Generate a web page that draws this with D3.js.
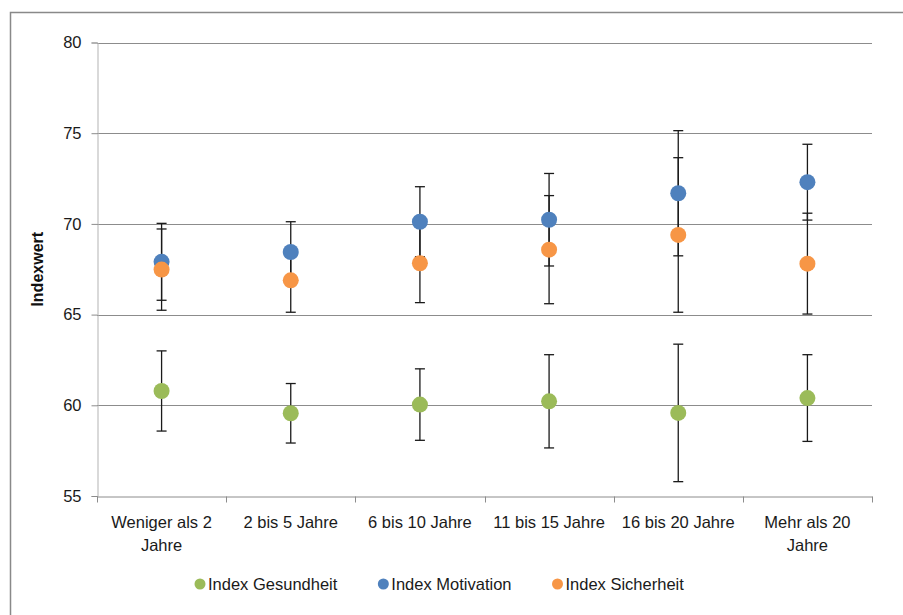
<!DOCTYPE html>
<html>
<head>
<meta charset="utf-8">
<script src="https://cdn.jsdelivr.net/npm/d3@7"></script>
<style>
  html, body { margin: 0; padding: 0; background: #fff; }
  svg { display: block; font-family: "Liberation Sans", Arial, sans-serif; }
</style>
</head>
<body>
<svg id="chart" width="903" height="615"></svg>
<script>
// ---- data ----
const categories = ["Weniger als 2 Jahre", "2 bis 5 Jahre", "6 bis 10 Jahre", "11 bis 15 Jahre", "16 bis 20 Jahre", "Mehr als 20 Jahre"];
const seriesNames = ["Index Gesundheit", "Index Motivation", "Index Sicherheit"];
const gesundheit = [60.79, 59.56, 60.04, 60.22, 59.58, 60.40];
const gesundheitErr = [2.21, 1.64, 1.97, 2.57, 3.79, 2.39];
const motivation = [67.91, 68.45, 70.12, 70.23, 71.69, 72.30];
const motivationErr = [2.12, 1.67, 1.93, 2.55, 3.45, 2.09];
const sicherheit = [67.48, 66.89, 67.83, 68.58, 69.39, 67.81];
const sicherheitErr = [2.24, 1.76, 2.17, 2.98, 4.26, 2.78];
const yTicks = [55, 60, 65, 70, 75, 80];
const yTitle = "Indexwert";
const colors = ["#9BBB59", "#4F81BD", "#F79646"];

const series = [
  { name: seriesNames[0], values: gesundheit, err: gesundheitErr, color: colors[0] },
  { name: seriesNames[1], values: motivation, err: motivationErr, color: colors[1] },
  { name: seriesNames[2], values: sicherheit, err: sicherheitErr, color: colors[2] }
];

const svg = d3.select("#chart");
const W = 903, H = 615;
const m = { left: 97, right: 872, top: 42.5, bottom: 496 };

// outer chart border
svg.append("rect")
  .attr("x", 10.5).attr("y", 12.5)
  .attr("width", W + 20).attr("height", H + 20)
  .attr("fill", "none").attr("stroke", "#898989").attr("stroke-width", 1.5);

const x = d3.scaleBand().domain(categories).range([m.left, m.right]).paddingInner(0).paddingOuter(0);
const y = d3.scaleLinear().domain([55, 80]).range([m.bottom, m.top]);

// gridlines
svg.append("g").selectAll("line").data(yTicks.filter(t => t !== 55)).join("line")
  .attr("x1", m.left).attr("x2", m.right)
  .attr("y1", d => Math.round(y(d)) + 0.5).attr("y2", d => Math.round(y(d)) + 0.5)
  .attr("stroke", "#8c8c8c").attr("stroke-width", 1);

// y axis
const yAxis = svg.append("g")
  .attr("transform", `translate(${m.left + 0.5},0)`)
  .call(d3.axisLeft(y).tickValues(yTicks).tickSize(6).tickPadding(10).tickFormat(d3.format("d")));
yAxis.select(".domain").attr("stroke", "#b3b3b3");
yAxis.selectAll(".tick line").attr("stroke", "#8c8c8c");
yAxis.selectAll(".tick text").attr("font-size", "16.5px").attr("fill", "#1a1a1a")
  .attr("font-family", "'Liberation Sans', Arial, sans-serif");

// x axis
const xAxis = svg.append("g")
  .attr("transform", `translate(0,${Math.round(y(55)) + 0.5})`)
  .call(d3.axisBottom(x).tickSize(0).tickPadding(0));
xAxis.select(".domain").attr("stroke", "#8c8c8c");
xAxis.selectAll(".tick text").remove();
// category boundary ticks
const bounds = categories.map(c => x(c)).concat([x(categories[categories.length - 1]) + x.bandwidth()]);
xAxis.selectAll(".bound").data(bounds).join("line").attr("class", "bound")
  .attr("x1", d => Math.round(d) + 0.5).attr("x2", d => Math.round(d) + 0.5)
  .attr("y1", 0).attr("y2", 6).attr("stroke", "#8c8c8c");

// category labels with wrapping
const labelG = svg.append("g").attr("font-size", "16.5px").attr("fill", "#1a1a1a");
categories.forEach(c => {
  const cx = x(c) + x.bandwidth() / 2;
  const t = labelG.append("text").attr("text-anchor", "middle").attr("x", cx).attr("y", 528);
  const words = c.split(" ");
  let line = [], lineNo = 0;
  let tspan = t.append("tspan").attr("x", cx).attr("y", 528);
  words.forEach(w => {
    line.push(w);
    tspan.text(line.join(" "));
    if (tspan.node().getComputedTextLength() > x.bandwidth() - 8 && line.length > 1) {
      line.pop();
      tspan.text(line.join(" "));
      line = [w];
      lineNo++;
      tspan = t.append("tspan").attr("x", cx).attr("y", 528 + lineNo * 23).text(w);
    }
  });
});

// y axis title
svg.append("text")
  .attr("transform", `translate(43,${(m.top + m.bottom) / 2}) rotate(-90)`)
  .attr("text-anchor", "middle")
  .attr("font-size", "16px").attr("font-weight", "bold").attr("fill", "#111")
  .text(yTitle);

// error bars
const capW = 5;
const eg = svg.append("g").attr("stroke", "#1a1a1a").attr("stroke-width", 1.3);
series.forEach(s => {
  s.values.forEach((v, i) => {
    const cx = x(categories[i]) + x.bandwidth() / 2;
    const y1 = y(v + s.err[i]), y2 = y(v - s.err[i]);
    eg.append("line").attr("x1", cx).attr("x2", cx).attr("y1", y1).attr("y2", y2);
    eg.append("line").attr("x1", cx - capW).attr("x2", cx + capW).attr("y1", y1).attr("y2", y1);
    eg.append("line").attr("x1", cx - capW).attr("x2", cx + capW).attr("y1", y2).attr("y2", y2);
  });
});

// markers
series.forEach(s => {
  svg.append("g").selectAll("circle").data(s.values).join("circle")
    .attr("cx", (d, i) => x(categories[i]) + x.bandwidth() / 2)
    .attr("cy", d => y(d))
    .attr("r", 8)
    .attr("fill", s.color);
});

// legend
const lg = svg.append("g").attr("font-size", "16.5px").attr("fill", "#1a1a1a");
let lx = 200;
series.forEach(s => {
  lg.append("circle").attr("cx", lx).attr("cy", 584).attr("r", 5.5).attr("fill", s.color);
  const t = lg.append("text").attr("x", lx + 8).attr("y", 590).text(s.name);
  lx += 8 + t.node().getComputedTextLength() + 46;
});
</script>
</body>
</html>
